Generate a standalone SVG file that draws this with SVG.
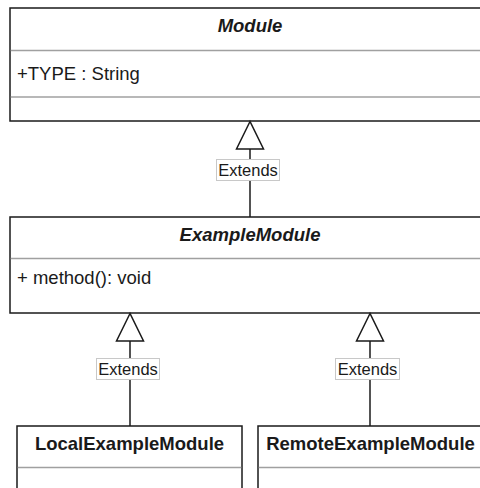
<svg xmlns="http://www.w3.org/2000/svg" width="480" height="488" viewBox="0 0 480 488">
  <style>
    .box { fill: #ffffff; stroke: #1a1a1a; stroke-width: 1.5; }
    .div { stroke: #a0a0a0; stroke-width: 1.3; fill: none; }
    .t { font-family: "Liberation Sans", Arial, sans-serif; font-size: 18.5px; fill: #1a1a1a; }
    .title { font-weight: bold; text-anchor: middle; }
    .it { font-style: italic; }
    .edge { stroke: #1a1a1a; stroke-width: 1.5; fill: none; }
    .head { fill: #ffffff; stroke: #1a1a1a; stroke-width: 1.5; }
    .lbox { fill: #ffffff; stroke: #c8c8c8; stroke-width: 1; }
    .lbl { font-family: "Liberation Sans", Arial, sans-serif; font-size: 16.5px; fill: #1a1a1a; text-anchor: middle; }
  </style>
  <rect width="480" height="488" fill="#ffffff"/>

  <g id="Module">
    <rect class="box" x="10" y="8" width="480" height="113"/>
    <line class="div" x1="10.75" y1="50.5" x2="490" y2="50.5"/>
    <line class="div" x1="10.75" y1="97" x2="490" y2="97"/>
    <text class="t title it" x="250" y="32">Module</text>
    <text class="t" x="17" y="80">+TYPE : String</text>
  </g>

  <g id="ExampleModule">
    <rect class="box" x="10" y="217" width="480" height="96"/>
    <line class="div" x1="10.75" y1="258.5" x2="490" y2="258.5"/>
    <text class="t title it" x="250" y="241">ExampleModule</text>
    <text class="t" x="17" y="284">+ method(): void</text>
  </g>

  <g id="LocalExampleModule">
    <rect class="box" x="17" y="426" width="225" height="80"/>
    <line class="div" x1="17.75" y1="467.5" x2="241.25" y2="467.5"/>
    <text class="t title" x="129.5" y="450">LocalExampleModule</text>
  </g>

  <g id="RemoteExampleModule">
    <rect class="box" x="258" y="426" width="225" height="80"/>
    <line class="div" x1="258.75" y1="467.5" x2="483" y2="467.5"/>
    <text class="t title" x="370.5" y="450">RemoteExampleModule</text>
  </g>

  <g id="connectors">
    <line class="edge" x1="250" y1="149" x2="250" y2="217"/>
    <polygon class="head" points="250,121.5 236.5,149 263.5,149"/>
    <rect class="lbox" x="216.5" y="159.5" width="63" height="21"/>
    <text class="lbl" x="248" y="176">Extends</text>

    <line class="edge" x1="130" y1="341" x2="130" y2="426"/>
    <polygon class="head" points="130,313.5 116.5,341 143.5,341"/>
    <rect class="lbox" x="96.5" y="358.5" width="63" height="21"/>
    <text class="lbl" x="128" y="375">Extends</text>

    <line class="edge" x1="370" y1="341" x2="370" y2="426"/>
    <polygon class="head" points="370,313.5 356.5,341 383.5,341"/>
    <rect class="lbox" x="335.5" y="358.5" width="64" height="21"/>
    <text class="lbl" x="367.5" y="375">Extends</text>
  </g>
</svg>
